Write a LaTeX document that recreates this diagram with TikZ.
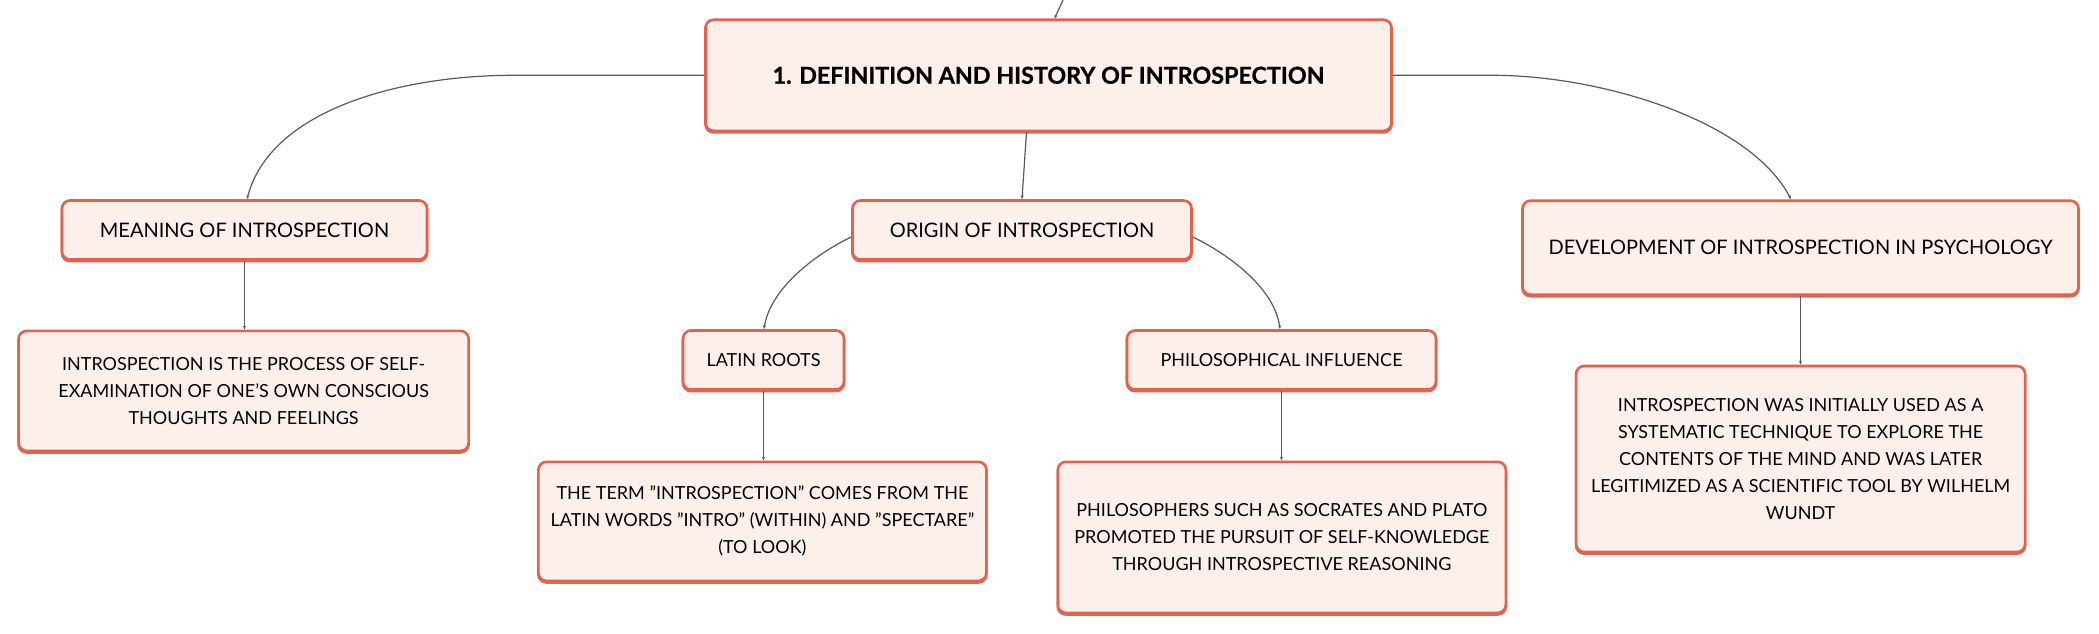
\documentclass[tikz,border=0pt]{standalone}
\usepackage{fontspec}
\setmainfont{Lato}
\newfontfamily\titlefont[BoldFeatures={FakeBold=0.8}]{Lato}
\usetikzlibrary{arrows.meta}
\definecolor{bord}{HTML}{E8604A}
\definecolor{boxfill}{HTML}{FDF0EA}
\definecolor{shad}{HTML}{C8705F}
\definecolor{linec}{HTML}{5A5A5A}
\tikzset{
  box/.style={draw=bord, fill=boxfill, line width=2.6pt, rounded corners=8pt,
    align=center, inner sep=0pt, text=black,
    preaction={draw=shad, line width=2.6pt, transform canvas={yshift=-1.6pt}}},
  titlebox/.style={box, font=\titlefont\fontsize{23.3}{28}\selectfont\bfseries},
  midbox/.style={box, font=\fontsize{20}{27}\selectfont},
  smallbox/.style={box, font=\fontsize{18}{27}\selectfont},
  descbox/.style={box, font=\fontsize{18}{27}\selectfont},
  conn/.style={draw=linec, line width=1.2pt, -{Stealth[length=4pt,width=3pt]}},
}
\begin{document}
\begin{tikzpicture}[x=1pt,y=-1pt]
\useasboundingbox[fill=white] (0,0) rectangle (2099,634);

\node[titlebox, minimum width=686pt, minimum height=111pt] (main) at (1048.5,75.3)
  {1. DEFINITION AND HISTORY OF INTROSPECTION};
\node[midbox, minimum width=365pt, minimum height=59pt] (meaning) at (244.5,230)
  {MEANING OF INTROSPECTION};
\node[midbox, minimum width=339pt, minimum height=59pt] (origin) at (1022,230)
  {ORIGIN OF INTROSPECTION};
\node[midbox, minimum width=556pt, minimum height=94pt] (dev) at (1800.5,247.7)
  {DEVELOPMENT OF INTROSPECTION IN PSYCHOLOGY};
\node[descbox, minimum width=450pt, minimum height=120pt] (mdesc) at (243.6,390.9)
  {INTROSPECTION IS THE PROCESS OF SELF-\\EXAMINATION OF ONE'S OWN CONSCIOUS\\THOUGHTS AND FEELINGS};
\node[smallbox, minimum width=161pt, minimum height=59pt] (latin) at (763.5,360)
  {LATIN ROOTS};
\node[smallbox, minimum width=309pt, minimum height=59pt] (phil) at (1281.5,360)
  {PHILOSOPHICAL INFLUENCE};
\node[descbox, minimum width=449pt, minimum height=186pt] (ddesc) at (1800.6,459)
  {INTROSPECTION WAS INITIALLY USED AS A\\SYSTEMATIC TECHNIQUE TO EXPLORE THE\\CONTENTS OF THE MIND AND WAS LATER\\LEGITIMIZED AS A SCIENTIFIC TOOL BY WILHELM\\WUNDT};
\node[descbox, minimum width=448pt, minimum height=119pt] (ldesc) at (762.4,521.4)
  {THE TERM "INTROSPECTION" COMES FROM THE\\LATIN WORDS "INTRO" (WITHIN) AND "SPECTARE"\\(TO LOOK)};
\node[descbox, minimum width=448pt, minimum height=151pt] (pdesc) at (1281.8,537.4)
  {PHILOSOPHERS SUCH AS SOCRATES AND PLATO\\PROMOTED THE PURSUIT OF SELF-KNOWLEDGE\\THROUGH INTROSPECTIVE REASONING};

\coordinate (topc) at (1063,0);
\draw[conn] (topc) -- ([xshift=6pt]main.north);
\draw[conn] (main.west) -- (513,75.3) .. controls (400,75.3) and (270,110) .. ([xshift=2.5pt]meaning.north);
\draw[conn] (main.east) -- (1493,75.3) .. controls (1600,75.3) and (1750,120) .. ([xshift=-9.5pt]dev.north);
\draw[conn] ([xshift=-22pt]main.south) -- (origin.north);
\draw[conn] ([yshift=-7pt]origin.west) .. controls (812,256) and (770,290) .. ([xshift=0.5pt]latin.north);
\draw[conn] ([yshift=-7pt]origin.east) .. controls (1232,256) and (1275,290) .. ([xshift=-1.5pt]phil.north);
\draw[conn] (meaning.south) -- (meaning.south |- mdesc.north);
\draw[conn] (latin.south) -- (latin.south |- ldesc.north);
\draw[conn] (phil.south) -- (phil.south |- pdesc.north);
\draw[conn] (dev.south) -- (dev.south |- ddesc.north);
\end{tikzpicture}
\end{document}
